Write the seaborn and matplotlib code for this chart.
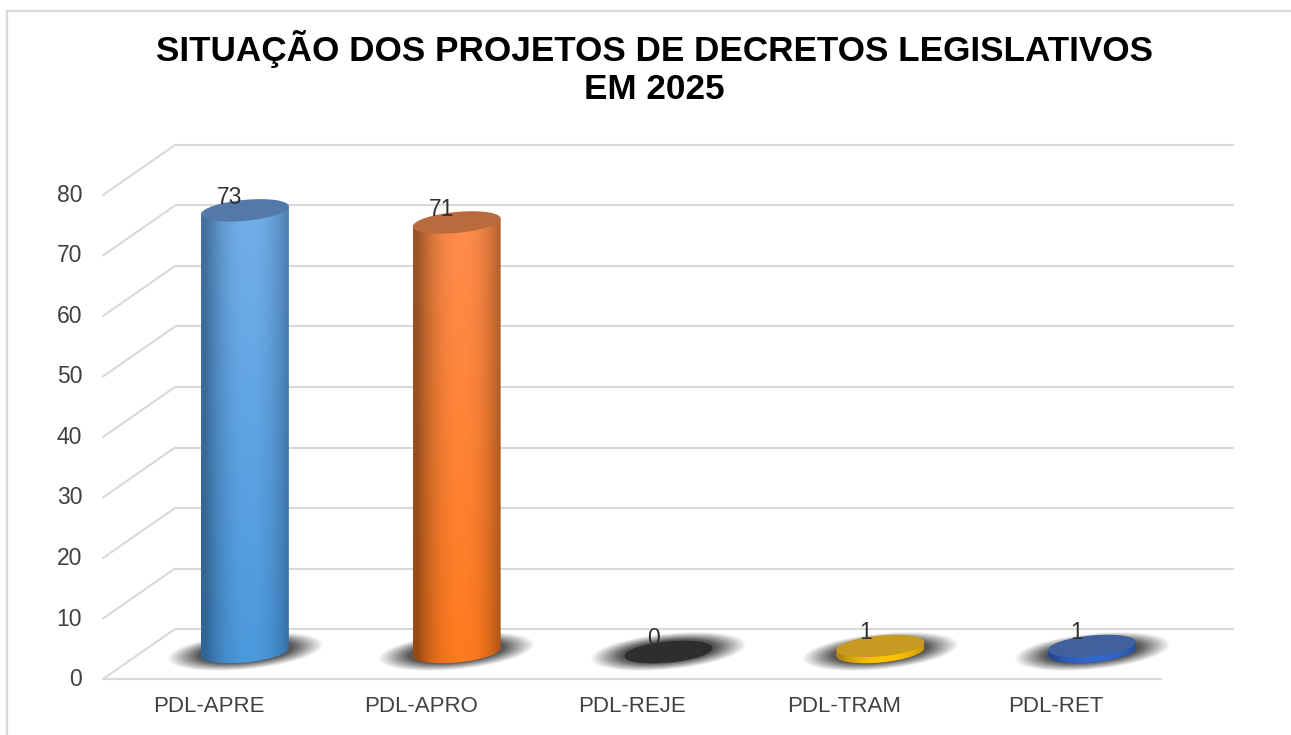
import numpy as np
import pandas as pd
import matplotlib
matplotlib.use("Agg")
import matplotlib.pyplot as plt
import matplotlib.colors as mcolors
from matplotlib.lines import Line2D
from matplotlib.patches import Ellipse
from matplotlib.transforms import Affine2D
import seaborn as sns

categories = ["PDL-APRE", "PDL-APRO", "PDL-REJE", "PDL-TRAM", "PDL-RET"]
values = [73, 71, 0, 1, 1]
y_ticks = [0, 10, 20, 30, 40, 50, 60, 70, 80]
title = "SITUAÇÃO DOS PROJETOS DE DECRETOS LEGISLATIVOS\nEM 2025"

base_colors = ["#5B9BD5", "#ED7D31", "#333333", "#FFC000", "#2F5FC0"]
top_colors = ["#5279A8", "#BA6B3E", "#2E2E2E", "#C79A22", "#40609E"]
light_upper = ["#74B0EA", "#FF8D4E", "#444444", "#FFC800", "#3A6CD0"]
light_lower = ["#4A98DC", "#FF7A1E", "#333333", "#FFC000", "#2F66CC"]
dark_upper = ["#44709C", "#9A5428", "#222222", "#B08A10", "#28488C"]
dark_lower = ["#2F6494", "#9A4A10", "#222222", "#B08A10", "#28488C"]

GRID = "#D9D9D9"
TEXT = "#404040"
W, H = 1291, 735

sns.set_theme(style="white")
plt.rcParams["font.family"] = ["Liberation Sans", "DejaVu Sans"]

fig = plt.figure(figsize=(W / 100, H / 100), dpi=100, facecolor="white")
ax = fig.add_axes([103 / W, (H - 679) / H, (1162 - 103) / W, (679 - 195) / H])

df = pd.DataFrame({"situacao": categories, "total": values})
sns.barplot(
    data=df, x="situacao", y="total", hue="situacao",
    palette=base_colors, width=0.415, legend=False, ax=ax,
)
ax.set_xlim(-0.5, 4.5)
ax.set_ylim(0, 80)
ax.set_xlabel("")
ax.set_ylabel("")
sns.despine(ax=ax, left=True, bottom=True)

# depth of the fake 3D box, in pixels and in data units
px_x = (1162 - 103) / 5
px_y = (679 - 195) / 80
depth_x = 72 / px_x
depth_y = 50 / px_y
ticks = np.array(y_ticks)

# back wall and left wall lines
ax.hlines(ticks + depth_y, -0.5 + depth_x, 4.5 + depth_x, color=GRID, lw=1.5, zorder=1, clip_on=False)
for t in ticks:
    ax.plot([-0.5, -0.5 + depth_x], [t, t + depth_y], color=GRID, lw=1.5, zorder=1, clip_on=False)
ax.hlines(0, -0.5, 4.5, color=GRID, lw=1.5, zorder=1, clip_on=False)


def bar_transform(i):
    cx = ax.transData.transform((i, 0))[0]
    return (
        ax.transData
        + Affine2D().translate(-cx, 0).skew(0, np.arctan(0.09)).translate(cx + 36, 27)
    )


def side_gradient(i):
    n = 120
    x = np.linspace(-1, 1, n)
    shade = np.abs(x - 0.1) ** 2.2
    shade = np.clip(shade, 0, 1)[None, :, None]
    fade = np.linspace(0, 1, 60)[:, None, None]
    up_l, lo_l = np.array(mcolors.to_rgb(light_upper[i])), np.array(mcolors.to_rgb(light_lower[i]))
    up_d, lo_d = np.array(mcolors.to_rgb(dark_upper[i])), np.array(mcolors.to_rgb(dark_lower[i]))
    light = up_l * (1 - fade) + lo_l * fade
    dark = up_d * (1 - fade) + lo_d * fade
    return light * (1 - shade) + dark * shade


def shadow_image():
    yy, xx = np.mgrid[-1:1:120j, -1:1:240j]
    r = np.sqrt(xx ** 2 + yy ** 2)
    alpha = np.clip((1 - r) / 0.4, 0, 1) * 0.9
    img = np.zeros((120, 240, 4))
    img[..., :3] = 0.27
    img[..., 3] = alpha
    return img


half_w = 0.415 / 2
disc_h = 21 / px_y
shade_img = shadow_image()

for i, (bar, v) in enumerate(zip(ax.patches, values)):
    tr = bar_transform(i)
    bar.set_transform(tr)
    bar.set_clip_on(False)

    shadow = ax.imshow(
        shade_img, extent=[i - 0.37, i + 0.37, -3.0, 3.0], aspect="auto",
        interpolation="bilinear", zorder=2,
    )
    shadow.set_transform(tr)
    shadow.set_clip_on(False)

    bottom = Ellipse((i, 0), 0.415, disc_h, transform=tr)
    extent = [i - half_w, i + half_w, -disc_h, max(v, 0) + disc_h]
    clips = [(bar.get_path(), bar.get_transform()), (bottom.get_path(), bottom.get_transform())]
    for clip_path, clip_tr in clips:
        im = ax.imshow(side_gradient(i), extent=extent, aspect="auto", interpolation="bilinear", zorder=3)
        im.set_transform(tr)
        im.set_clip_path(clip_path, clip_tr)

    ax.add_patch(
        Ellipse((i, v), 0.415, disc_h, transform=tr, facecolor=top_colors[i],
                edgecolor="none", zorder=4, clip_on=False)
    )
    ax.annotate(
        str(v), xy=(i, v), xycoords=tr, xytext=(-10.8, 9.6), textcoords="offset points",
        ha="center", va="center", fontsize=16.5, color="#303030", zorder=5,
        annotation_clip=False,
    )

ax.set_yticks(y_ticks)
ax.tick_params(axis="x", length=0, pad=12, labelsize=16, labelcolor=TEXT)
ax.tick_params(axis="y", length=0, pad=15, labelsize=16.5, labelcolor=TEXT)
ax.set_zorder(1)
for label in ax.get_yticklabels():
    label.set_transform(label.get_transform() + Affine2D().translate(0, 2))

fig.text(
    654 / W, (H - 68) / H, title, ha="center", va="center", fontsize=25.3,
    fontweight="bold", color="black", linespacing=1.17,
)

# chart frame, only top and left are visible in the picture
fig.add_artist(Line2D([7 / W, 7 / W], [0, (H - 11) / H], color=GRID, lw=1.6))
fig.add_artist(Line2D([7 / W, 1], [(H - 11) / H, (H - 11) / H], color=GRID, lw=1.6))

fig.savefig("out.png", dpi=100, facecolor="white")
